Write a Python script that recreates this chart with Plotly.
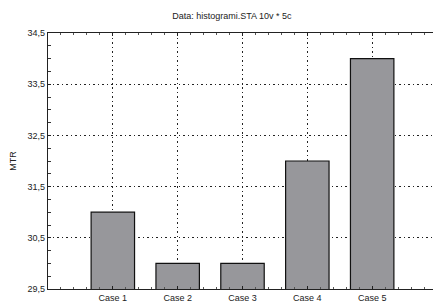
import plotly.graph_objects as go

categories = ["Case 1", "Case 2", "Case 3", "Case 4", "Case 5"]
mtr_values = [31.0, 30.0, 30.0, 32.0, 34.0]
y_ticks = [29.5, 30.5, 31.5, 32.5, 33.5, 34.5]

positions = list(range(len(categories)))

fig = go.Figure(
    go.Bar(
        x=positions,
        y=mtr_values,
        width=0.67,
        marker=dict(color="#97979b", line=dict(color="#111111", width=1.2)),
    )
)

font = "Liberation Sans, Arial, sans-serif"
fig.update_layout(
    width=433,
    height=298,
    margin=dict(l=37, r=3, t=25, b=15),
    paper_bgcolor="white",
    plot_bgcolor="white",
    separators=",.",
    showlegend=False,
    title=dict(
        text="Data: histogrami.STA 10v * 5c",
        x=0.517,
        xanchor="center",
        y=0.973,
        yanchor="middle",
        font=dict(family=font, size=9, color="#222222"),
    ),
    font=dict(family=font, size=9, color="#222222"),
)

grid_dash = "1.5px,3px"

fig.update_xaxes(
    range=[-1, 5],
    tickvals=positions,
    ticktext=categories,
    showgrid=True,
    gridcolor="#222222",
    griddash=grid_dash,
    gridwidth=1,
    showline=True,
    linecolor="#222222",
    linewidth=1.2,
    mirror="ticks",
    ticks="inside",
    ticklen=3,
    tickcolor="#222222",
    zeroline=False,
    minor=dict(dtick=0.2, ticks="inside", ticklen=2, tickcolor="#555555", showgrid=False),
    tickfont=dict(size=9),
)

fig.update_yaxes(
    range=[29.5, 34.5],
    tickvals=y_ticks,
    tickformat=".1f",
    showgrid=True,
    gridcolor="#222222",
    griddash=grid_dash,
    gridwidth=1,
    showline=True,
    linecolor="#222222",
    linewidth=1.2,
    mirror="ticks",
    ticks="inside",
    ticklen=3,
    tickcolor="#222222",
    zeroline=False,
    minor=dict(dtick=0.25, tick0=29.5, ticks="inside", ticklen=3, tickcolor="#333333", showgrid=False),
    title=dict(text="MTR", standoff=10, font=dict(size=9)),
    tickfont=dict(size=9),
)

fig.write_html("out.html")
